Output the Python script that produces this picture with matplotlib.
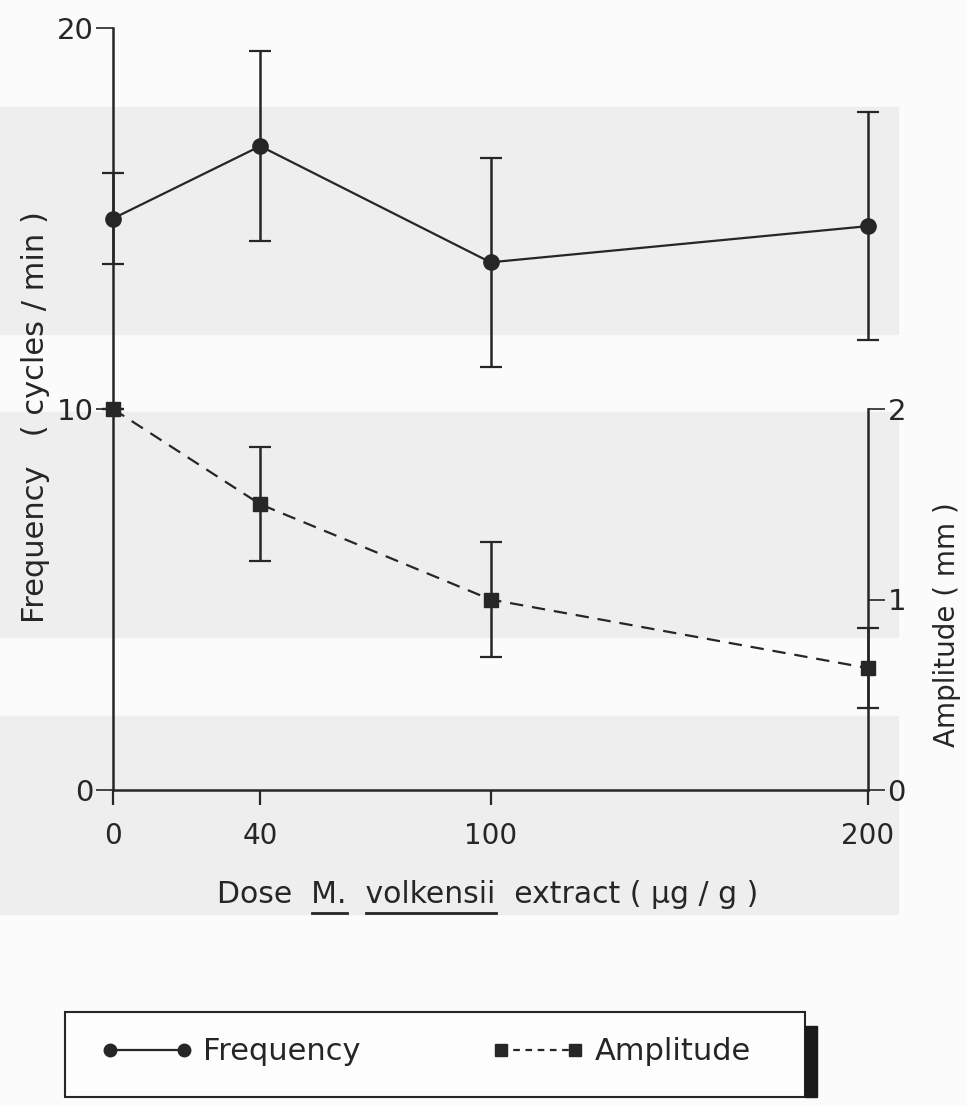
import numpy as np
import matplotlib.pyplot as plt
from matplotlib.patches import Rectangle
from matplotlib.lines import Line2D

# values
doses = ["0", "40", "100", "200"]
freq = [15.0, 16.9, 13.85, 14.8]
freq_err = [1.2, 2.5, 2.75, 3.0]
amp = [2.0, 1.5, 1.0, 0.64]
amp_err = [0.0, 0.3, 0.3, 0.21]

# dose axis of the original is hand drawn, not to scale
dose_pos = [0, 0.195, 0.5, 1.0]

W, H = 967, 1106
ink = "#262626"


def fx(px):
    return px / W


def fy(py):
    return 1 - py / H


fig = plt.figure(figsize=(W / 100, H / 100), dpi=100, facecolor="#fbfbfb")

# grey bands of the scan
for top, bot in [(107, 334), (412, 637), (716, 914)]:
    fig.add_artist(Rectangle((0, fy(bot)), fx(898), (bot - top) / H,
                             transform=fig.transFigure, color="#eeeeee", zorder=-5))

ax = fig.add_axes([fx(113), fy(790), fx(868 - 113), (790 - 28) / H])
ax.patch.set_alpha(0)
ax.set_xlim(0, 1)
ax.set_ylim(0, 20)
for s in ["top", "right"]:
    ax.spines[s].set_visible(False)
for s in ["left", "bottom"]:
    ax.spines[s].set_linewidth(1.8)
    ax.spines[s].set_color(ink)

ax2 = ax.twinx()
ax2.patch.set_alpha(0)
ax2.set_ylim(0, 4)
for s in ["top", "left", "bottom"]:
    ax2.spines[s].set_visible(False)
ax2.spines["right"].set_bounds(0, 2)
ax2.spines["right"].set_linewidth(1.8)
ax2.spines["right"].set_color(ink)

ax.errorbar(dose_pos, freq, yerr=freq_err, fmt="-o", color=ink, ms=11, lw=1.6,
            elinewidth=1.8, capsize=8, capthick=1.6, clip_on=False, zorder=3)
ax2.errorbar(dose_pos, amp, yerr=amp_err, fmt="--s", color=ink, ms=10, lw=1.6,
             dashes=(6, 4), elinewidth=1.8, capsize=8, capthick=1.6, clip_on=False, zorder=3)

ax.set_xticks(dose_pos, doses)
ax.tick_params(axis="x", direction="out", length=11, width=1.6, pad=12,
               labelsize=20, colors=ink)
ax.set_yticks([0, 10, 20])
ax.tick_params(axis="y", direction="out", length=12, width=1.2, pad=2,
               labelsize=21, colors=ink)
ax2.set_yticks([0, 1, 2])
ax2.tick_params(axis="y", direction="out", length=12, width=1.2, pad=2,
                labelsize=21, colors=ink)

fig.text(fx(36), fy(417), "Frequency   ( cycles / min )", rotation=90,
         ha="center", va="center", fontsize=22, color=ink)
fig.text(fx(947), fy(625), "Amplitude ( mm )", rotation=90,
         ha="center", va="center", fontsize=20, color=ink)

# x label with underlined genus and species
xsize = 21.5
label = "Dose  M.  volkensii  extract ( µg / g )"
xt = fig.text(0, fy(903), label, ha="left", va="baseline", fontsize=xsize, color=ink)
r = fig.canvas.get_renderer()


def width(s, size):
    t = fig.text(0, 0, s, fontsize=size)
    w = t.get_window_extent(r).width
    t.remove()
    return w


total = width(label, xsize)
x0 = 488 - total / 2
xt.set_x(fx(x0))
for word, prefix in [("M.", "Dose  M."), ("volkensii", "Dose  M.  volkensii")]:
    end = width(prefix, xsize)
    start = end - width(word, xsize)
    fig.add_artist(Line2D([fx(x0 + start), fx(x0 + end)], [fy(913), fy(913)],
                          transform=fig.transFigure, color=ink, lw=2))

# legend box
fig.add_artist(Rectangle((fx(65), fy(1097)), fx(740), 85 / H, transform=fig.transFigure,
                         facecolor="#fdfdfd", edgecolor=ink, lw=1.5, zorder=1))
fig.add_artist(Rectangle((fx(805), fy(1097)), fx(12), (1097 - 1026) / H,
                         transform=fig.transFigure, color="#1a1a1a", zorder=1))
handles = [Line2D([], [], color=ink, marker="o", ms=9, ls="-", lw=1.6),
           Line2D([], [], color=ink, marker="s", ms=9, ls="--", lw=1.6, dashes=(3, 2.5))]
leg = fig.legend(handles, ["Frequency", "Amplitude"], loc="center left",
                 bbox_to_anchor=(fx(101), fy(1052)), ncol=2, numpoints=2,
                 handlelength=3.0, handletextpad=0.35, columnspacing=4.3,
                 fontsize=22, frameon=False, borderpad=0, borderaxespad=0)
leg.set_zorder(2)
for t in leg.get_texts():
    t.set_color(ink)

fig.savefig("out.png", dpi=100, facecolor=fig.get_facecolor())
